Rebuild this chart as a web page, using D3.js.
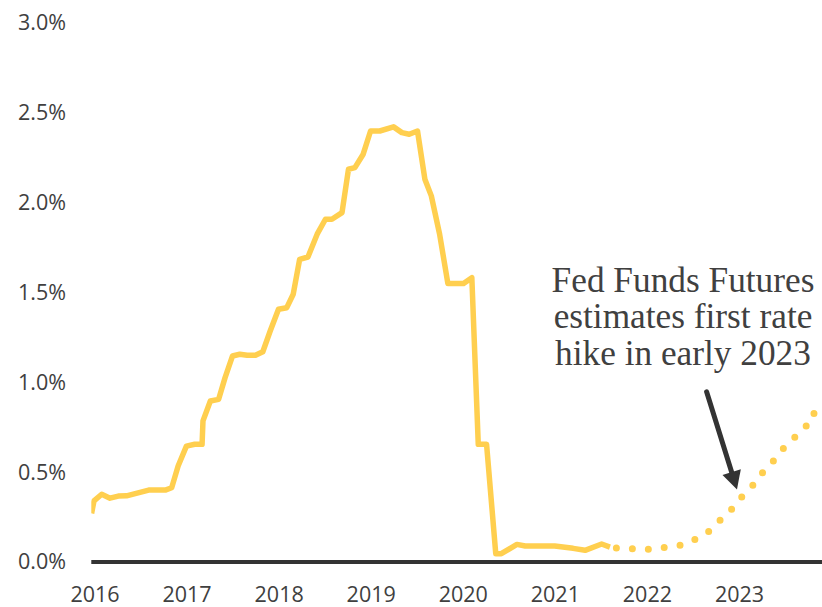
<!DOCTYPE html>
<html>
<head>
<meta charset="utf-8">
<script src="https://cdn.jsdelivr.net/npm/d3@7"></script>
<style>
  html, body { margin: 0; padding: 0; background: #fff; }
  svg { display: block; }
</style>
</head>
<body>
<div id="chart"></div>
<script>
// effective fed funds rate (decimal year, %)
const actualDates = [
  2015.99, 2016.016, 2016.10, 2016.19, 2016.28, 2016.37, 2016.61, 2016.79, 2016.86, 2016.93,
  2017.02, 2017.11, 2017.19, 2017.20, 2017.28, 2017.37, 2017.44, 2017.52, 2017.60, 2017.68,
  2017.77, 2017.85, 2017.93, 2018.02, 2018.11, 2018.18, 2018.25, 2018.34, 2018.44, 2018.53,
  2018.60, 2018.71, 2018.78, 2018.85, 2018.94, 2019.02, 2019.12, 2019.27, 2019.36, 2019.44,
  2019.53, 2019.61, 2019.68, 2019.77, 2019.86, 2020.03, 2020.12, 2020.19, 2020.28, 2020.38,
  2020.44, 2020.61, 2020.70, 2021.02, 2021.22, 2021.35, 2021.53, 2021.62,
];
const actualRates = [
  0.27, 0.34, 0.377, 0.355, 0.367, 0.368, 0.40, 0.40, 0.413, 0.534,
  0.645, 0.655, 0.655, 0.785, 0.896, 0.905, 1.026, 1.146, 1.156, 1.15,
  1.15, 1.17, 1.285, 1.406, 1.415, 1.49, 1.684, 1.697, 1.824, 1.907,
  1.907, 1.944, 2.185, 2.194, 2.269, 2.398, 2.398, 2.421, 2.389, 2.38,
  2.398, 2.13, 2.037, 1.824, 1.549, 1.549, 1.582, 0.655, 0.655, 0.046,
  0.046, 0.098, 0.089, 0.089, 0.076, 0.065, 0.10, 0.083,
];

// implied path from fed funds futures
const futuresDates = [
  2021.69, 2021.75, 2021.83, 2021.92, 2022.00, 2022.08, 2022.17, 2022.25, 2022.33, 2022.42,
  2022.50, 2022.58, 2022.67, 2022.75, 2022.83, 2022.92, 2023.00, 2023.08, 2023.17, 2023.25,
  2023.33, 2023.42, 2023.50, 2023.58, 2023.67, 2023.75, 2023.83, 2023.92,
];
const futuresRates = [
  0.078, 0.077, 0.075, 0.073, 0.070, 0.071, 0.078, 0.084, 0.088, 0.097,
  0.115, 0.135, 0.16, 0.195, 0.24, 0.28, 0.33, 0.38, 0.425, 0.48,
  0.53, 0.575, 0.63, 0.67, 0.715, 0.755, 0.83, 0.77,
];

const yearTicks = [2016, 2017, 2018, 2019, 2020, 2021, 2022, 2023];
const rateTicks = [0, 0.5, 1, 1.5, 2, 2.5, 3];

const noteLines = ["Fed Funds Futures", "estimates first rate", "hike in early 2023"];
const arrowFrom = [2022.67, 0.947];
const arrowTo = [2023.0, 0.404];

const width = 822;
const height = 607;
const gold = "#ffcf4f";
const ink = "#404040";
const sans = "'Open Sans', Lato, sans-serif";

const svg = d3
  .select("#chart")
  .append("svg")
  .attr("width", width)
  .attr("height", height)
  .attr("viewBox", [0, 0, width, height]);

const x = d3.scaleLinear().domain([2016, 2024]).range([92.5, 92.5 + 8 * 92.07]);
const y = d3.scaleLinear().domain([0, 3]).range([562, 22.8]);

svg
  .append("clipPath")
  .attr("id", "plot")
  .append("rect")
  .attr("x", x(2016) - 1.2)
  .attr("y", 0)
  .attr("width", width)
  .attr("height", height);

// y axis labels
svg
  .append("g")
  .attr("transform", "translate(70,0)")
  .call(
    d3.axisLeft(y)
      .tickValues(rateTicks)
      .tickFormat((d) => d.toFixed(1) + "%")
      .tickSize(0)
      .tickPadding(4)
  )
  .call((g) => g.select(".domain").remove())
  .call((g) =>
    g.selectAll("text")
      .attr("font-family", sans)
      .attr("font-size", 21.5)
      .attr("fill", ink)
  );

// x axis labels
svg
  .append("g")
  .attr("transform", `translate(0,${y(0)})`)
  .call(
    d3.axisBottom(x)
      .tickValues(yearTicks)
      .tickFormat(d3.format("d"))
      .tickSize(0)
      .tickPadding(25)
  )
  .call((g) => g.select(".domain").remove())
  .call((g) =>
    g.selectAll("text")
      .attr("dx", 2)
      .attr("font-family", sans)
      .attr("font-size", 21.5)
      .attr("fill", ink)
  );

// zero line
svg
  .append("line")
  .attr("x1", x(2016) - 1.2)
  .attr("x2", width)
  .attr("y1", y(0))
  .attr("y2", y(0))
  .attr("stroke", "#333")
  .attr("stroke-width", 4);

const line = d3
  .line()
  .x((d) => x(d[0]))
  .y((d) => y(d[1]));

const plot = svg.append("g").attr("clip-path", "url(#plot)");

plot
  .append("path")
  .datum(d3.zip(actualDates, actualRates))
  .attr("fill", "none")
  .attr("stroke", gold)
  .attr("stroke-width", 5.5)
  .attr("stroke-linejoin", "round")
  .attr("d", line);

plot
  .append("path")
  .datum(d3.zip(futuresDates, futuresRates))
  .attr("fill", "none")
  .attr("stroke", gold)
  .attr("stroke-width", 7)
  .attr("stroke-linecap", "round")
  .attr("stroke-dasharray", "0 16")
  .attr("d", line);

// annotation
svg
  .append("g")
  .attr("font-family", "'Liberation Serif', 'DejaVu Serif', serif")
  .attr("font-size", 35.3)
  .attr("fill", ink)
  .attr("text-anchor", "middle")
  .selectAll("text")
  .data(noteLines)
  .join("text")
  .attr("x", 683)
  .attr("y", (d, i) => 291.7 + i * 36.7)
  .text((d) => d);

// arrow
const p0 = [x(arrowFrom[0]), y(arrowFrom[1])];
const p1 = [x(arrowTo[0]), y(arrowTo[1])];
const len = Math.hypot(p1[0] - p0[0], p1[1] - p0[1]);
const ux = (p1[0] - p0[0]) / len;
const uy = (p1[1] - p0[1]) / len;
const headLen = 18;
const headHalf = 9.6;
const bx = p1[0] - ux * headLen;
const by = p1[1] - uy * headLen;

svg
  .append("line")
  .attr("x1", p0[0])
  .attr("y1", p0[1])
  .attr("x2", bx + ux * 2)
  .attr("y2", by + uy * 2)
  .attr("stroke", "#333")
  .attr("stroke-width", 5)
  .attr("stroke-linecap", "round");

svg
  .append("path")
  .attr("fill", "#333")
  .attr(
    "d",
    `M${p1[0]},${p1[1]}L${bx - uy * headHalf},${by + ux * headHalf}L${bx + uy * headHalf},${by - ux * headHalf}Z`
  );
</script>
</body>
</html>
